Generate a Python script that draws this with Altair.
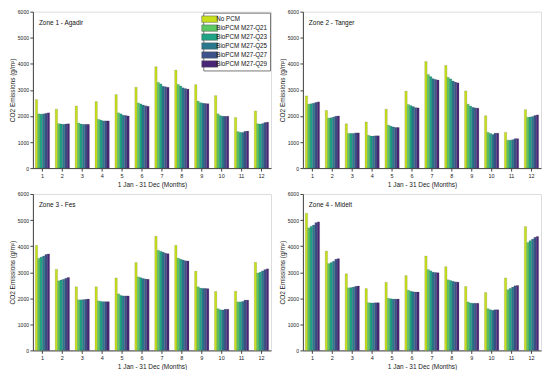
import altair as alt
import pandas as pd

months = [str(m) for m in range(1, 13)]
series = ["No PCM", "BioPCM M27-Q21", "BioPCM M27-Q23", "BioPCM M27-Q25",
          "BioPCM M27-Q27", "BioPCM M27-Q29"]
colors = ["#c8e01c", "#5cc863", "#20a486", "#2a788e", "#3b528b", "#482576"]
zone_titles = ["Zone 1 - Agadir", "Zone 2 - Tanger", "Zone 3 - Fes", "Zone 4 - Midelt"]

zone1 = {
    "No PCM":         [2630, 2260, 2380, 2550, 2820, 3100, 3890, 3760, 3200, 2780, 1940, 2190],
    "BioPCM M27-Q21": [2080, 1706, 1730, 1870, 2120, 2500, 3290, 3210, 2570, 2080, 1400, 1700],
    "BioPCM M27-Q23": [2070, 1690, 1690, 1840, 2080, 2460, 3230, 3150, 2510, 2010, 1370, 1690],
    "BioPCM M27-Q25": [2080, 1680, 1680, 1810, 2030, 2420, 3140, 3080, 2490, 1990, 1370, 1710],
    "BioPCM M27-Q27": [2100, 1690, 1680, 1810, 2020, 2390, 3120, 3050, 2480, 1990, 1410, 1750],
    "BioPCM M27-Q29": [2120, 1700, 1680, 1810, 2000, 2370, 3100, 3030, 2470, 1990, 1420, 1760],
}
zone2 = {
    "No PCM":         [2770, 2210, 1700, 1770, 2260, 2950, 4090, 3940, 2960, 2010, 1370, 2240],
    "BioPCM M27-Q21": [2450, 1920, 1330, 1260, 1650, 2440, 3590, 3480, 2450, 1370, 1070, 1950],
    "BioPCM M27-Q23": [2470, 1930, 1330, 1230, 1610, 2400, 3510, 3420, 2380, 1330, 1070, 1960],
    "BioPCM M27-Q25": [2490, 1960, 1330, 1230, 1580, 2360, 3430, 3340, 2330, 1290, 1090, 1980],
    "BioPCM M27-Q27": [2520, 1990, 1350, 1240, 1560, 2320, 3400, 3300, 2310, 1340, 1130, 2020],
    "BioPCM M27-Q29": [2540, 2000, 1350, 1240, 1560, 2310, 3380, 3270, 2300, 1340, 1130, 2040],
}
zone3 = {
    "No PCM":         [4030, 3110, 2440, 2440, 2780, 3370, 4380, 4030, 3040, 2260, 2270, 3380],
    "BioPCM M27-Q21": [3530, 2670, 1940, 1900, 2170, 2820, 3840, 3540, 2440, 1600, 1860, 2970],
    "BioPCM M27-Q23": [3580, 2700, 1940, 1880, 2110, 2790, 3800, 3500, 2390, 1560, 1860, 3000],
    "BioPCM M27-Q25": [3620, 2730, 1950, 1870, 2090, 2760, 3770, 3470, 2380, 1550, 1880, 3050],
    "BioPCM M27-Q27": [3680, 2770, 1960, 1870, 2090, 2740, 3730, 3440, 2380, 1580, 1930, 3100],
    "BioPCM M27-Q29": [3700, 2800, 1970, 1870, 2090, 2730, 3710, 3430, 2370, 1580, 1930, 3130],
}
zone4 = {
    "No PCM":         [5260, 3810, 2940, 2370, 2610, 2870, 3620, 3210, 2450, 2220, 2780, 4750],
    "BioPCM M27-Q21": [4700, 3330, 2400, 1830, 2000, 2310, 3100, 2710, 1860, 1600, 2330, 4140],
    "BioPCM M27-Q23": [4760, 3370, 2410, 1820, 1980, 2270, 3050, 2680, 1820, 1560, 2380, 4210],
    "BioPCM M27-Q25": [4810, 3420, 2430, 1820, 1970, 2250, 3000, 2650, 1810, 1540, 2430, 4270],
    "BioPCM M27-Q27": [4900, 3500, 2460, 1830, 1970, 2240, 2990, 2630, 1810, 1560, 2480, 4340],
    "BioPCM M27-Q29": [4930, 3520, 2470, 1830, 1970, 2240, 2980, 2620, 1810, 1560, 2490, 4370],
}
zones = [zone1, zone2, zone3, zone4]

FONT = "Liberation Sans"
W, H = 239, 157


def panel(zone, title, show_legend):
    rows = []
    for s in series:
        for m, v in zip(months, zone[s]):
            rows.append({"Month": m, "Series": s, "Value": v})
    df = pd.DataFrame(rows)
    if show_legend:
        legend = alt.Legend(
            title=None, orient="top-right", offset=1,
            symbolType="M-2,-0.8H2V0.8H-2Z", symbolSize=64,
            symbolStrokeWidth=0.5, symbolStrokeColor="#555",
            labelFont=FONT, labelFontSize=6.3, labelColor="#111",
            rowPadding=0, padding=2, strokeColor="#777",
            fillColor="white", labelOffset=2,
        )
    else:
        legend = None
    bars = alt.Chart(df).mark_bar(stroke="#333", strokeWidth=0.15).encode(
        x=alt.X("Month:N", sort=months,
                scale=alt.Scale(paddingInner=0.28, paddingOuter=0.12),
                axis=alt.Axis(title="1 Jan - 31 Dec (Months)", labelAngle=0,
                              labelFontSize=5.5, titleFontSize=6.5,
                              labelFont=FONT, titleFont=FONT, titleFontWeight="normal",
                              tickSize=3, labelPadding=2, titlePadding=3,
                              domainColor="#444", tickColor="#444",
                              labelColor="#222", titleColor="#222")),
        xOffset=alt.XOffset("Series:N", sort=series),
        y=alt.Y("Value:Q", scale=alt.Scale(domain=[0, 6000], nice=False),
                axis=alt.Axis(title="CO2 Emissions (g/m²)", values=[0, 1000, 2000, 3000, 4000, 5000, 6000],
                              format="d", grid=False, labelFontSize=5, titleFontSize=6.5,
                              labelFont=FONT, titleFont=FONT, titleFontWeight="normal",
                              tickSize=3, labelPadding=1.5, titlePadding=2,
                              domainColor="#444", tickColor="#444",
                              labelColor="#222", titleColor="#222")),
        color=alt.Color("Series:N", sort=series,
                        scale=alt.Scale(domain=series, range=colors),
                        legend=legend),
    )
    label = alt.Chart(pd.DataFrame({"t": [title]})).mark_text(
        align="left", baseline="middle", font=FONT, fontSize=6.5, color="#111"
    ).encode(x=alt.value(6), y=alt.value(11), text="t:N")
    return alt.layer(bars, label).properties(width=W, height=H)


p = [panel(z, t, i == 0) for i, (z, t) in enumerate(zip(zones, zone_titles))]
row1 = alt.hconcat(p[0], p[1], spacing=6).resolve_scale(color="independent")
row2 = alt.hconcat(p[2], p[3], spacing=6).resolve_scale(color="independent")
chart = alt.vconcat(row1, row2, spacing=2).resolve_scale(color="independent").properties(
    padding=0
).configure_view(stroke="#555", strokeWidth=0.8).configure(background="white")

chart.save("out.html", embed_options={"renderer": "svg", "actions": False})
